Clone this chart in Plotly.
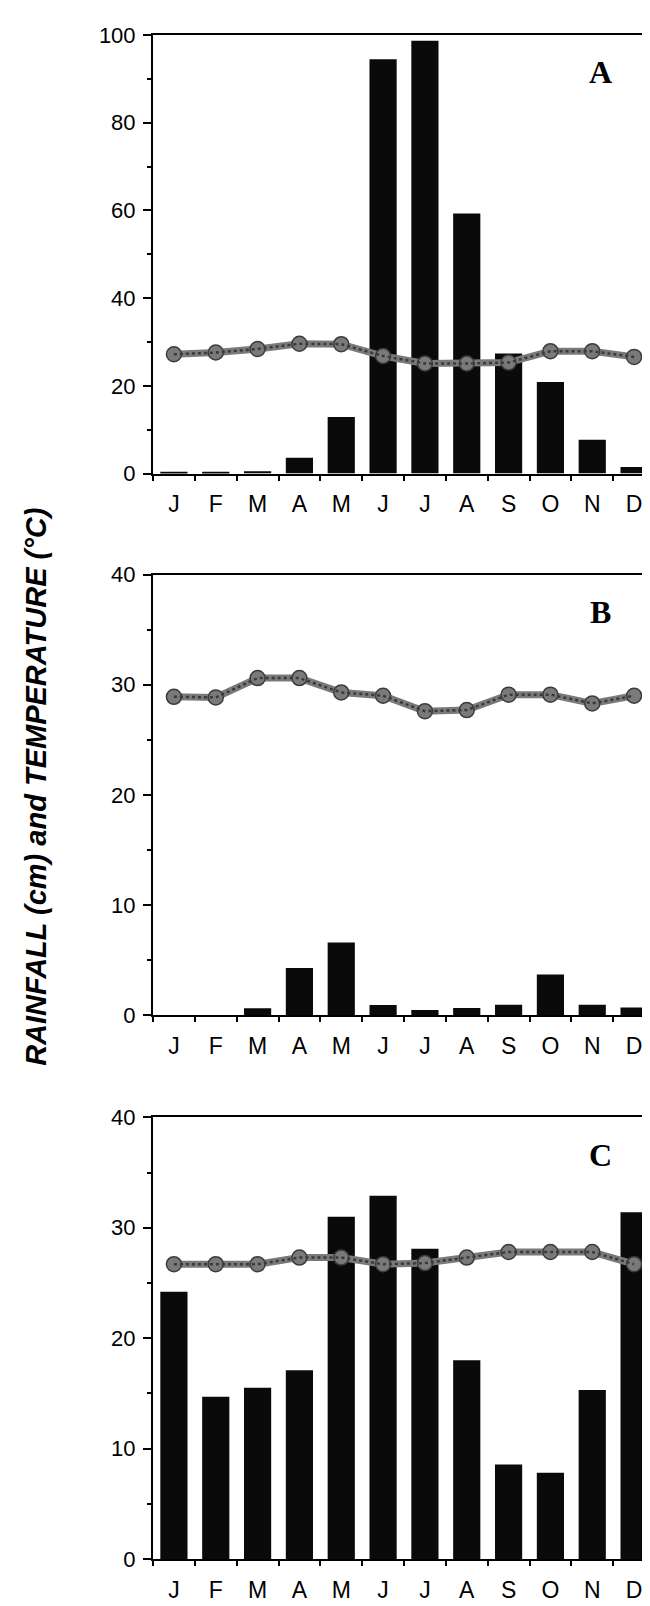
import plotly.graph_objects as go

# ---------------- data ----------------
months = ["J", "F", "M", "A", "M", "J", "J", "A", "S", "O", "N", "D"]

rain_a = [0.4, 0.4, 0.5, 3.6, 12.9, 94.5, 98.7, 59.3, 27.4, 20.9, 7.7, 1.5]
temp_a = [27.2, 27.6, 28.4, 29.6, 29.5, 26.8, 25.1, 25.1, 25.3, 27.9, 27.9, 26.6]

rain_b = [0, 0, 0.63, 4.3, 6.6, 0.92, 0.48, 0.65, 0.95, 3.7, 0.95, 0.7]
temp_b = [28.9, 28.85, 30.6, 30.6, 29.3, 29.0, 27.6, 27.7, 29.1, 29.1, 28.3, 29.0]

rain_c = [24.2, 14.7, 15.5, 17.1, 31.0, 32.9, 28.1, 18.0, 8.55, 7.8, 15.3, 31.4]
temp_c = [26.7, 26.7, 26.7, 27.3, 27.3, 26.7, 26.8, 27.3, 27.8, 27.8, 27.8, 26.7]

panel_labels = ["A", "B", "C"]
y_max = [100, 40, 40]
y_major = [20, 10, 10]
y_minor = [10, 5, 5]

# ---------------- layout constants ----------------
W, H = 650, 1606
x_left, x_right = 145, 647
panel_px = [(15.3, 460.7), (563.3, 1011.0), (1114.7, 1563.3)]  # (top, bottom) in px

FONT = "Liberation Sans, Arial, sans-serif"
x_idx = list(range(len(months)))
boundaries = [i - 0.5 for i in range(len(months))]

fig = go.Figure()
layout = dict(
    width=W, height=H,
    margin=dict(l=0, r=0, t=0, b=0),
    paper_bgcolor="white", plot_bgcolor="white",
    showlegend=False,
    font=dict(family=FONT, color="black"),
)

rains = [rain_a, rain_b, rain_c]
temps = [temp_a, temp_b, temp_c]

annotations = []
for k in range(3):
    sfx = "" if k == 0 else str(k + 1)
    xa, ya = "x" + sfx, "y" + sfx
    fig.add_trace(go.Bar(
        x=x_idx, y=rains[k], xaxis=xa, yaxis=ya,
        width=0.65, marker=dict(color="#0a0a0a", line=dict(width=0)),
    ))
    fig.add_trace(go.Scatter(
        x=x_idx, y=temps[k], xaxis=xa, yaxis=ya, mode="lines+markers",
        line=dict(color="#7a7a7a", width=7),
        marker=dict(size=15, color="#7a7a7a", line=dict(color="#3c3c3c", width=1.5)),
    ))
    fig.add_trace(go.Scatter(
        x=x_idx, y=temps[k], xaxis=xa, yaxis=ya, mode="lines",
        line=dict(color="#3a3a3a", width=2.5, dash="dot"),
        hoverinfo="skip",
    ))
    top, bot = panel_px[k]
    ydom = [1 - bot / H, 1 - top / H]
    layout["xaxis" + sfx] = dict(
        domain=[x_left / W, x_right / W], anchor=ya,
        range=[-0.5, 11.5], tickmode="array", tickvals=x_idx, ticktext=months,
        ticks="", showgrid=False, zeroline=False,
        showline=True, linecolor="black", linewidth=2, mirror=True,
        tickfont=dict(size=23, family=FONT, color="black"),
        ticklabelstandoff=9,
        minor=dict(tickmode="array", tickvals=boundaries, ticks="outside",
                   ticklen=5, tickwidth=2, tickcolor="black", showgrid=False),
    )
    layout["yaxis" + sfx] = dict(
        domain=ydom, anchor=xa,
        range=[0, y_max[k]], tickmode="linear", tick0=0, dtick=y_major[k],
        ticks="outside", ticklen=8, tickwidth=2, tickcolor="black",
        showgrid=False, zeroline=False,
        showline=True, linecolor="black", linewidth=2, mirror=True,
        tickfont=dict(size=22, family=FONT, color="black"),
        ticklabelstandoff=3,
        minor=dict(dtick=y_minor[k], ticks="outside", ticklen=4, tickwidth=2,
                   tickcolor="black", showgrid=False),
    )
    annotations.append(dict(
        text="<b>%s</b>" % panel_labels[k], x=592.7 / W, y=1 - (top + 38) / H,
        xref="paper", yref="paper", showarrow=False, xanchor="center", yanchor="middle",
        font=dict(family="Liberation Serif, Times New Roman, serif", size=32, color="black"),
    ))

annotations.append(dict(
    text="<b><i>RAINFALL (cm) and TEMPERATURE (°C)</i></b>",
    x=28 / W, y=1 - 779 / H, xref="paper", yref="paper", showarrow=False,
    textangle=-90, xanchor="center", yanchor="middle",
    font=dict(family=FONT, size=29, color="black"),
))
layout["annotations"] = annotations

fig.update_layout(**layout)
fig.write_html("out.html")
